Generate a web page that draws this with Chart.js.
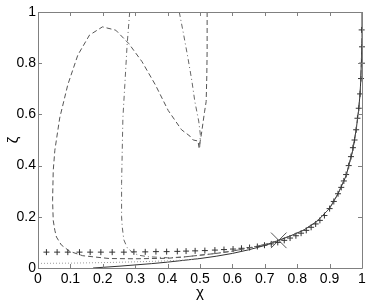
<!DOCTYPE html>
<html>
<head>
<meta charset="utf-8">
<script src="https://cdn.jsdelivr.net/npm/chart.js@4.4.1/dist/chart.umd.min.js"></script>
<style>
html,body{margin:0;padding:0;background:#fff;}
canvas{display:block;}
</style>
</head>
<body>
<canvas id="c" width="374" height="300"></canvas>
<script>
// ---- data ----
const xTicks = [0,0.1,0.2,0.3,0.4,0.5,0.6,0.7,0.8,0.9,1];
const yTicks = [0,0.2,0.4,0.6,0.8,1];

const solidX = [0.17,0.25,0.3,0.35,0.4,0.45,0.5,0.55,0.6,0.65,0.7,0.743,0.78,0.82,0.86,0.9,0.926,0.951,0.971,0.982,0.99,0.995,0.998,1.0,1.0];
const solidY = [0.0,0.007,0.012,0.017,0.023,0.03,0.037,0.046,0.057,0.071,0.088,0.108,0.126,0.148,0.181,0.233,0.29,0.36,0.457,0.54,0.62,0.7,0.8,0.9,1.0];

const dashX = [0.522,0.522,0.521,0.519,0.514,0.504,0.497,0.494,0.479,0.469,0.443,0.402,0.362,0.321,0.28,0.24,0.199,0.159,0.123,0.092,0.067,0.052,0.047,0.045,0.047,0.052,0.057,0.072,0.098,0.138,0.22,0.3,0.4,0.45,0.5,0.55,0.6,0.65,0.7,0.743,0.78,0.82,0.86,0.9,0.926,0.951,0.971,0.982,0.99,0.995,0.998,1.0];
const dashY = [1.0,0.85,0.75,0.65,0.61,0.52,0.47,0.496,0.5,0.515,0.54,0.615,0.716,0.806,0.877,0.929,0.942,0.91,0.832,0.716,0.586,0.46,0.38,0.264,0.186,0.147,0.121,0.09,0.065,0.048,0.037,0.036,0.038,0.043,0.05,0.057,0.066,0.078,0.092,0.108,0.126,0.148,0.181,0.233,0.29,0.36,0.457,0.54,0.62,0.7,0.8,0.9];

const dashDotAX = [0.283,0.275,0.268,0.262,0.26,0.258,0.258,0.26,0.265,0.275,0.29,0.31,0.34,0.4,0.45,0.5,0.55,0.6,0.65,0.7,0.743];
const dashDotAY = [1.0,0.871,0.716,0.586,0.46,0.33,0.2,0.16,0.11,0.08,0.062,0.05,0.044,0.04,0.043,0.05,0.057,0.066,0.078,0.092,0.108];

const dashDotBX = [0.436,0.448,0.463,0.475,0.484,0.496,0.501,0.499];
const dashDotBY = [1.0,0.922,0.819,0.73,0.651,0.574,0.522,0.47];

const dotX = [0.0,0.1,0.2,0.3,0.4,0.45,0.5];
const dotY = [0.018,0.019,0.021,0.024,0.028,0.031,0.037];

const plusX = [0.026,0.059,0.092,0.128,0.161,0.194,0.229,0.265,0.296,0.331,0.364,0.397,0.43,0.457,0.485,0.515,0.546,0.574,0.602,0.628,0.653,0.677,0.699,0.72,0.74,0.76,0.778,0.796,0.812,0.828,0.843,0.857,0.87,0.884,0.9,0.913,0.926,0.936,0.944,0.951,0.959,0.966,0.972,0.977,0.982,0.986,0.99,0.994,0.997,1.0,1.0,0.999];
const plusY = [0.062,0.062,0.062,0.062,0.062,0.062,0.062,0.062,0.063,0.063,0.064,0.064,0.065,0.066,0.067,0.068,0.07,0.072,0.074,0.077,0.08,0.084,0.089,0.094,0.1,0.108,0.117,0.126,0.136,0.147,0.159,0.172,0.186,0.205,0.232,0.26,0.29,0.315,0.34,0.365,0.4,0.435,0.47,0.5,0.54,0.585,0.624,0.68,0.74,0.8,0.864,0.93];

const markX = [0.743];
const markY = [0.108];

const pts = (xs, ys) => xs.map((x, i) => ({x: x, y: ys[i]}));

const framePlugin = {
  id: 'frame',
  afterDraw(chart) {
    const {ctx, chartArea: a, scales} = chart;
    ctx.save();
    ctx.strokeStyle = '#808080';
    ctx.lineWidth = 1;
    ctx.beginPath();
    ctx.rect(Math.round(a.left) + 0.5, Math.round(a.top) + 0.5, Math.round(a.right - a.left), Math.round(a.bottom - a.top));
    ctx.stroke();
    const L = 4;
    ctx.beginPath();
    xTicks.forEach(v => {
      const px = Math.round(scales.x.getPixelForValue(v)) + 0.5;
      ctx.moveTo(px, a.bottom); ctx.lineTo(px, a.bottom - L);
      ctx.moveTo(px, a.top); ctx.lineTo(px, a.top + L);
    });
    yTicks.forEach(v => {
      const py = Math.round(scales.y.getPixelForValue(v)) + 0.5;
      ctx.moveTo(a.left, py); ctx.lineTo(a.left + L, py);
      ctx.moveTo(a.right, py); ctx.lineTo(a.right - L, py);
    });
    ctx.stroke();
    ctx.restore();
  }
};

const fmt = v => {
  const r = Math.round(v * 10) / 10;
  return String(r);
};

new Chart(document.getElementById('c'), {
  type: 'scatter',
  data: {
    datasets: [
      {data: pts(dotX, dotY), showLine: true, borderColor: '#9a9a9a', borderWidth: 1, borderDash: [1, 2], pointRadius: 0, tension: 0},
      {data: pts(dashDotAX, dashDotAY), showLine: true, borderColor: '#666', borderWidth: 1, borderDash: [5, 3, 1, 3], pointRadius: 0, tension: 0},
      {data: pts(dashDotBX, dashDotBY), showLine: true, borderColor: '#666', borderWidth: 1, borderDash: [5, 3, 1, 3], pointRadius: 0, tension: 0},
      {data: pts(dashX, dashY), showLine: true, borderColor: '#555', borderWidth: 1, borderDash: [5, 3], pointRadius: 0, tension: 0},
      {data: pts(solidX, solidY), showLine: true, borderColor: '#333', borderWidth: 1, pointRadius: 0, tension: 0},
      {data: pts(plusX, plusY), showLine: false, pointStyle: 'cross', pointRadius: 3, borderColor: '#333', borderWidth: 1, clip: false},
      {data: pts(markX, markY), showLine: false, pointStyle: 'crossRot', pointRadius: 11, borderColor: '#555', borderWidth: 1, clip: false}
    ]
  },
  options: {
    responsive: false,
    animation: false,
    devicePixelRatio: 1,
    layout: {padding: {left: 6, top: 10, right: 8, bottom: 0}},
    plugins: {legend: {display: false}, tooltip: {enabled: false}},
    elements: {point: {hoverRadius: 0}},
    scales: {
      x: {
        type: 'linear', min: 0, max: 1,
        afterBuildTicks: s => { s.ticks = xTicks.map(v => ({value: v})); },
        afterFit: s => { s.height = 32; },
        grid: {display: false, drawTicks: false},
        border: {display: false},
        ticks: {callback: fmt, color: '#000', font: {family: 'Liberation Sans', size: 14}, padding: 3, maxRotation: 0, autoSkip: false},
        title: {display: true, text: 'χ', color: '#000', font: {family: 'Liberation Sans', size: 15, lineHeight: 1}, padding: 0}
      },
      y: {
        type: 'linear', min: 0, max: 1,
        afterBuildTicks: s => { s.ticks = yTicks.map(v => ({value: v})); },
        afterFit: s => { s.width = 32; },
        grid: {display: false, drawTicks: false},
        border: {display: false},
        ticks: {callback: fmt, color: '#000', font: {family: 'Liberation Sans', size: 14}, padding: 2, autoSkip: false},
        title: {display: true, text: 'ζ', color: '#000', font: {family: 'Liberation Sans', size: 15, lineHeight: 1}, padding: 0}
      }
    }
  },
  plugins: [framePlugin]
});
</script>
</body>
</html>
